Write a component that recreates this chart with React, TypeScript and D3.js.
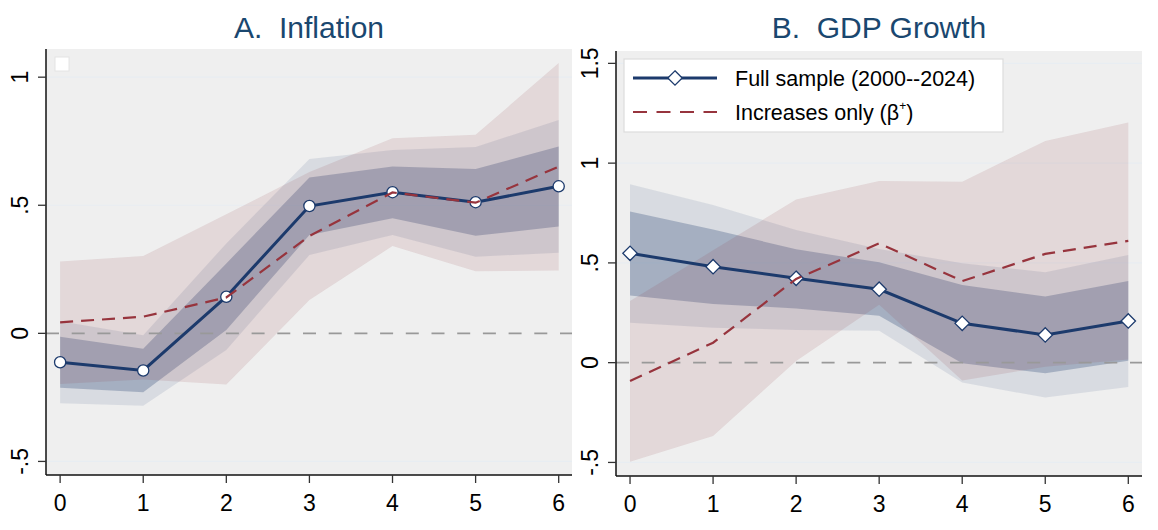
import React from 'react';
import * as d3 from 'd3';

// horizons (years after shock)
const horizons = [0, 1, 2, 3, 4, 5, 6];
const xTickLabels = ['0', '1', '2', '3', '4', '5', '6'];

// Panel A: inflation
const inflFull = [-0.113, -0.145, 0.143, 0.497, 0.551, 0.512, 0.574];
const inflFullLo90 = [-0.212, -0.23, 0.013, 0.384, 0.449, 0.381, 0.417];
const inflFullHi90 = [-0.013, -0.06, 0.273, 0.608, 0.651, 0.642, 0.729];
const inflFullLo95 = [-0.273, -0.283, -0.065, 0.306, 0.384, 0.299, 0.315];
const inflFullHi95 = [0.047, -0.007, 0.351, 0.681, 0.716, 0.727, 0.833];
const inflPos = [0.043, 0.065, 0.14, 0.38, 0.55, 0.51, 0.651];
const inflPosLo = [-0.198, -0.18, -0.2, 0.13, 0.341, 0.242, 0.245];
const inflPosHi = [0.28, 0.302, 0.465, 0.63, 0.762, 0.775, 1.055];
const inflYTicks = [-0.5, 0, 0.5, 1];
const inflYLabels = ['-.5', '0', '.5', '1'];

// Panel B: GDP growth
const gdpFull = [0.548, 0.481, 0.423, 0.368, 0.197, 0.139, 0.209];
const gdpFullLo90 = [0.336, 0.294, 0.272, 0.235, -0.003, -0.053, 0.009];
const gdpFullHi90 = [0.757, 0.668, 0.568, 0.503, 0.389, 0.331, 0.409];
const gdpFullLo95 = [0.2, 0.175, 0.164, 0.16, -0.1, -0.175, -0.122];
const gdpFullHi95 = [0.894, 0.79, 0.665, 0.57, 0.498, 0.453, 0.54];
const gdpPos = [-0.092, 0.1, 0.42, 0.598, 0.409, 0.545, 0.61];
const gdpPosLo = [-0.496, -0.367, 0.008, 0.29, -0.089, -0.02, 0.016];
const gdpPosHi = [0.309, 0.563, 0.818, 0.91, 0.907, 1.111, 1.204];
const gdpYTicks = [-0.5, 0, 0.5, 1, 1.5];
const gdpYLabels = ['-.5', '0', '.5', '1', '1.5'];

const legendLabels = ['Full sample (2000--2024)', 'Increases only (β', '+', ')'];

const font = 'Liberation Sans, Arial, Helvetica, sans-serif';
const navy = '#1c3a6c';
const red = '#97343d';
const titleColor = '#1a476f';

type PanelProps = {
  title: string;
  left: number; right: number; top: number; bottom: number;
  xDomain: [number, number];
  yDomain: [number, number];
  yTicks: number[]; yLabels: string[];
  full: number[]; lo90: number[]; hi90: number[]; lo95: number[]; hi95: number[];
  pos: number[]; posLo: number[]; posHi: number[];
  marker: 'circle' | 'diamond';
  legend: boolean;
};

function Panel(p: PanelProps) {
  const x = d3.scaleLinear().domain(p.xDomain).range([p.left, p.right]);
  const y = d3.scaleLinear().domain(p.yDomain).range([p.bottom, p.top]);
  const idx = horizons.map((_, i) => i);

  const band = (lo: number[], hi: number[]) =>
    d3.area<number>().x(i => x(horizons[i])).y0(i => y(lo[i])).y1(i => y(hi[i]))(idx) || '';
  const ln = (v: number[]) => d3.line<number>().x(i => x(horizons[i])).y(i => y(v[i]))(idx) || '';

  const diamond = (cx: number, cy: number, r: number) =>
    `M${cx},${cy - r}L${cx + r},${cy}L${cx},${cy + r}L${cx - r},${cy}Z`;

  return (
    <g>
      <text x={(p.left + p.right) / 2} y={38} textAnchor="middle" fontSize={30} fill={titleColor} fontFamily={font}
        xmlSpace="preserve" style={{ whiteSpace: 'pre' }}>{p.title}</text>
      <rect x={p.left} y={p.top} width={p.right - p.left} height={p.bottom - p.top} fill="#efefef" />
      {p.yTicks.filter(t => t !== 0).map(t => (
        <line key={'g' + t} x1={p.left} x2={p.right} y1={y(t)} y2={y(t)} stroke="#e8edf2" strokeWidth={1.2} />
      ))}
      <path d={band(p.lo95, p.hi95)} fill="#28467a" fillOpacity={0.115} />
      <path d={band(p.lo90, p.hi90)} fill="#1e3a6c" fillOpacity={0.27} />
      <path d={band(p.posLo, p.posHi)} fill="#8b2f38" fillOpacity={0.12} />
      <line x1={p.left} x2={p.right} y1={y(0)} y2={y(0)} stroke="#999" strokeWidth={1.6} strokeDasharray="13 12.7" />
      <path d={ln(p.full)} fill="none" stroke={navy} strokeWidth={3} />
      {idx.map(i => p.marker === 'circle'
        ? <circle key={'m' + i} cx={x(horizons[i])} cy={y(p.full[i])} r={5.6} fill="white" stroke={navy} strokeWidth={1.3} />
        : <path key={'m' + i} d={diamond(x(horizons[i]), y(p.full[i]), 7.2)} fill="white" stroke={navy} strokeWidth={1.3} />)}
      <path d={ln(p.pos)} fill="none" stroke={red} strokeWidth={2.2} strokeDasharray="13 8" />
      {/* axes */}
      <line x1={p.left} x2={p.left} y1={p.top} y2={p.bottom} stroke="#111" strokeWidth={1.5} />
      <line x1={p.left} x2={p.right} y1={p.bottom} y2={p.bottom} stroke="#111" strokeWidth={1.5} />
      {p.yTicks.map((t, i) => (
        <g key={'y' + t}>
          <line x1={p.left - 8} x2={p.left} y1={y(t)} y2={y(t)} stroke="#333" strokeWidth={1.3} />
          <text transform={`translate(${p.left - 18},${y(t)}) rotate(-90)`} textAnchor="middle" fontSize={23} fontFamily={font} fill="#000">{p.yLabels[i]}</text>
        </g>
      ))}
      {horizons.map((h, i) => (
        <g key={'x' + h}>
          <line x1={x(h)} x2={x(h)} y1={p.bottom} y2={p.bottom + 8} stroke="#333" strokeWidth={1.3} />
          <text x={x(h)} y={p.bottom + 36} textAnchor="middle" fontSize={23} fontFamily={font} fill="#000">{xTickLabels[i]}</text>
        </g>
      ))}
      {!p.legend && (
        <rect x={p.left + 9} y={p.top + 8} width={14} height={14} fill="white" stroke="#e4e4e4" strokeWidth={1} />
      )}
      {p.legend && (
        <g fontFamily={font} fontSize={21.5}>
          <rect x={p.left + 8} y={p.top + 8} width={379} height={73} fill="white" stroke="#dcdcdc" strokeWidth={1.2} />
          <line x1={p.left + 17} x2={p.left + 101} y1={p.top + 27} y2={p.top + 27} stroke={navy} strokeWidth={3} />
          <path d={diamond(p.left + 59, p.top + 27, 7.2)} fill="white" stroke={navy} strokeWidth={1.3} />
          <text x={p.left + 119} y={p.top + 35}>{legendLabels[0]}</text>
          <line x1={p.left + 17} x2={p.left + 101} y1={p.top + 61} y2={p.top + 61} stroke={red} strokeWidth={2.2} strokeDasharray="14 9.5" />
          <text x={p.left + 119} y={p.top + 69}>
            {legendLabels[1]}
            <tspan dy={-10} fontSize={12}>{legendLabels[2]}</tspan>
            <tspan dy={10}>{legendLabels[3]}</tspan>
          </text>
        </g>
      )}
    </g>
  );
}

export default function App() {
  return (
    <svg width={1158} height={530} style={{ position: 'absolute', left: 0, top: 0, background: 'white' }}>
      <Panel title="A.  Inflation" left={46} right={572} top={49} bottom={475}
        xDomain={[-0.17, 6.16]} yDomain={[-0.553, 1.11]}
        yTicks={inflYTicks} yLabels={inflYLabels}
        full={inflFull} lo90={inflFullLo90} hi90={inflFullHi90} lo95={inflFullLo95} hi95={inflFullHi95}
        pos={inflPos} posLo={inflPosLo} posHi={inflPosHi} marker="circle" legend={false} />
      <Panel title="B.  GDP Growth" left={616} right={1142} top={51} bottom={476}
        xDomain={[-0.169, 6.165]} yDomain={[-0.568, 1.562]}
        yTicks={gdpYTicks} yLabels={gdpYLabels}
        full={gdpFull} lo90={gdpFullLo90} hi90={gdpFullHi90} lo95={gdpFullLo95} hi95={gdpFullHi95}
        pos={gdpPos} posLo={gdpPosLo} posHi={gdpPosHi} marker="diamond" legend={true} />
    </svg>
  );
}
